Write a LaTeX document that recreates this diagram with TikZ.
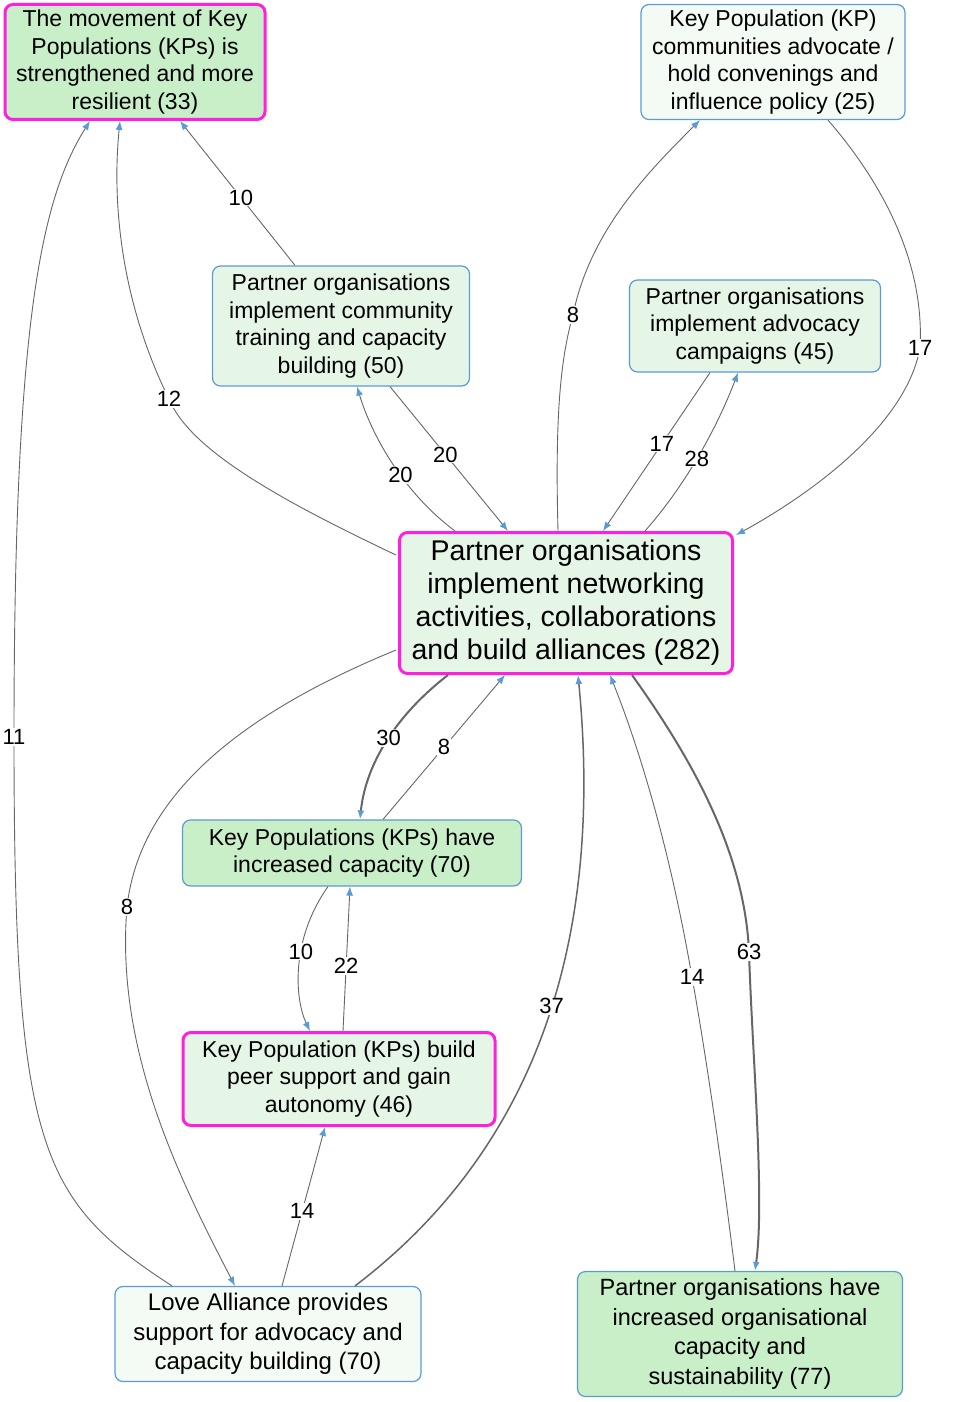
\documentclass[tikz,border=0pt]{standalone}
\usepackage{fontspec}
\setmainfont{Liberation Sans}
\usetikzlibrary{calc,arrows.meta}
\definecolor{mag}{HTML}{FF1FE0}
\definecolor{bord}{HTML}{5B9BD5}
\definecolor{gA}{HTML}{C8EFC8}
\definecolor{gB}{HTML}{E6F6E6}
\definecolor{gC}{HTML}{F4FBF4}
\tikzset{
 box/.style={draw=bord,line width=1.2pt,rounded corners=8pt,align=center,inner sep=2pt,font=\fontsize{23}{27.5}\selectfont},
 hot/.style={draw=mag,line width=3pt},
 edge/.style={draw=black!60,line width=0.9pt,-{Latex[length=9pt,width=7pt,color=bord]}},
 heavy/.style={edge,line width=2pt},
 lab/.style={fill=white,inner sep=1pt,font=\fontsize{22}{24}\selectfont}
}
\begin{document}
\begin{tikzpicture}[x=1pt,y=-1pt]
\useasboundingbox (0,0) rectangle (957,1402);
\node[box,hot,fill=gA,minimum width=260,minimum height=115] (A) at (135,62) {The movement of Key\\Populations (KPs) is\\strengthened and more\\resilient (33)};
\node[box,fill=gC,minimum width=264,minimum height=115] (B) at (773,62) {Key Population (KP)\\communities advocate /\\hold convenings and\\influence policy (25)};
\node[box,fill=gB,minimum width=257,minimum height=120] (C) at (341,326) {Partner organisations\\implement community\\training and capacity\\building (50)};
\node[box,fill=gB,minimum width=251,minimum height=92] (D) at (755,326) {Partner organisations\\implement advocacy\\campaigns (45)};
\node[box,hot,fill=gB,minimum width=333,minimum height=141,font=\fontsize{28.5}{33}\selectfont] (E) at (566,603) {Partner organisations\\implement networking\\activities, collaborations\\and build alliances (282)};
\node[box,fill=gA,minimum width=339,minimum height=66] (F) at (352,853) {Key Populations (KPs) have\\increased capacity (70)};
\node[box,hot,fill=gB,minimum width=312,minimum height=93] (G) at (339,1079) {Key Population (KPs) build\\peer support and gain\\autonomy (46)};
\node[box,fill=gC,minimum width=306,minimum height=95,font=\fontsize{24}{29.5}\selectfont] (H) at (268,1334) {Love Alliance provides\\support for advocacy and\\capacity building (70)};
\node[box,fill=gA,minimum width=325,minimum height=125,font=\fontsize{23.5}{29.5}\selectfont] (I) at (740,1334) {Partner organisations have\\increased organisational\\capacity and\\sustainability (77)};

\draw[edge] ($(C.north)+(-46,0)$) -- node[lab,pos=0.47]{10} ($(A.south)+(45,0)$);
\draw[edge] ($(E.west)+(-2,-48)$) .. controls (280,500) and (190,450) .. (169,399) node[lab]{12} .. controls (120,300) and (112,200) .. ($(A.south)+(-15,0)$);
\draw[edge] ($(H.north)+(-96,0)$) .. controls (40,1200) and (14,1150) .. (14,737) node[lab]{11} .. controls (14,330) and (40,200) .. ($(A.south)+(-45,0)$);
\draw[edge] ($(E.north)+(-8,0)$) .. controls (555,420) and (560,360) .. (573,315) node[lab]{8} .. controls (590,230) and (650,170) .. ($(B.south)+(-73,0)$);
\draw[edge] ($(B.south)+(55,0)$) .. controls (880,180) and (925,260) .. (920,348) node[lab]{17} .. controls (905,430) and (800,500) .. ($(E.north east)+(2,4)$);
\draw[edge] ($(D.south)+(-45,0)$) -- node[lab,pos=0.45]{17} ($(E.north)+(37,0)$);
\draw[edge] ($(E.north)+(79,0)$) .. controls (690,480) and (720,420) .. node[lab,pos=0.45]{28} ($(D.south)+(-17,0)$);
\draw[edge] ($(C.south)+(49,0)$) -- node[lab,pos=0.47]{20} ($(E.north)+(-58,0)$);
\draw[edge] ($(E.north)+(-111,0)$) .. controls (400,490) and (370,430) .. node[lab,pos=0.4]{20} ($(C.south)+(16,0)$);
\draw[heavy] ($(E.south)+(-118,0)$) .. controls (390,720) and (365,770) .. node[lab,pos=0.45]{30} ($(F.north)+(8,0)$);
\draw[edge] ($(F.north)+(31,0)$) -- node[lab,pos=0.5]{8} ($(E.south)+(-61,0)$);
\draw[edge] ($(F.south)+(-24,0)$) .. controls (290,940) and (295,1000) .. node[lab,pos=0.4]{10} ($(G.north)+(-29,0)$);
\draw[edge] ($(G.north)+(4,0)$) -- node[lab,pos=0.45]{22} ($(F.south)+(-2,0)$);
\draw[edge] ($(H.north)+(14,0)$) -- node[lab,pos=0.47]{14} ($(G.south)+(-14,0)$);
\draw[edge] ($(E.west)+(-2,47)$) .. controls (250,710) and (140,790) .. (127,907) node[lab]{8} .. controls (115,1050) and (180,1180) .. ($(H.north)+(-33,0)$);
\draw[heavy,line width=1.5pt] ($(H.north)+(87,0)$) .. controls (560,1130) and (600,900) .. node[lab,pos=0.5]{37} ($(E.south)+(12,0)$);
\draw[edge] ($(I.north)+(-5,0)$) .. controls (720,1150) and (705,1050) .. (692,977) node[lab]{14} .. controls (670,850) and (640,750) .. ($(E.south)+(44,0)$);
\draw[heavy] ($(E.south)+(66,0)$) .. controls (700,770) and (745,860) .. (749,952) node[lab]{63} .. controls (752,1050) and (765,1200) .. ($(I.north)+(15,0)$);
\end{tikzpicture}
\end{document}
